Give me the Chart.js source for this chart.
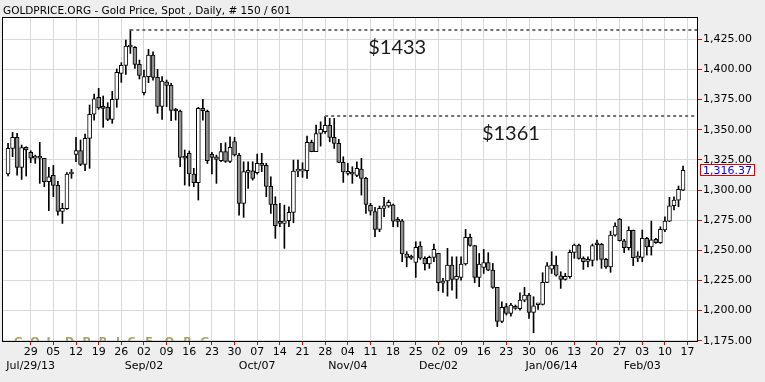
<!DOCTYPE html>
<html>
<head>
<meta charset="utf-8">
<script src="https://cdn.jsdelivr.net/npm/chart.js@4.4.0/dist/chart.umd.min.js"></script>
<style>
  html, body { margin: 0; padding: 0; background: #eeeeee; }
  canvas { display: block; }
</style>
</head>
<body>
<canvas id="gold" width="765" height="382"></canvas>
<script>
// daily OHLC, Jul/22/13 .. Feb/14/14 (150 sessions)
const open = [
  1313.3, 1334.5, 1343.7, 1318.8, 1335.4, 1331.2, 1326.3, 1328.2, 1326.3, 1306.9,
  1312.2, 1303.9, 1282.3, 1284.5, 1313.3, 1329.6, 1332.6, 1321.3, 1342.8, 1362.8,
  1376.9, 1368.3, 1368.6, 1358.6, 1375.2, 1396.8, 1403.4, 1418.6, 1418.3, 1404.2,
  1380.7, 1394.0, 1412.0, 1393.4, 1369.4, 1389.6, 1386.8, 1366.3, 1365.5, 1327.6,
  1330.4, 1313.3, 1306.1, 1367.7, 1365.2, 1329.6, 1327.6, 1324.3, 1331.8, 1323.8,
  1340.1, 1329.0, 1288.9, 1314.6, 1316.0, 1314.3, 1322.1, 1320.4, 1303.0, 1288.1,
  1273.4, 1272.3, 1274.5, 1281.4, 1315.7, 1315.7, 1316.0, 1339.5, 1331.7, 1346.9,
  1348.3, 1353.6, 1343.6, 1338.7, 1322.9, 1313.8, 1314.6, 1312.1, 1317.4, 1309.6,
  1287.2, 1282.2, 1267.3, 1284.7, 1286.7, 1287.8, 1274.8, 1274.5, 1246.9, 1244.4,
  1239.9, 1253.5, 1243.3, 1238.6, 1244.1, 1247.4, 1222.8, 1224.5, 1237.7, 1225.8,
  1227.5, 1238.6, 1260.7, 1254.0, 1227.5, 1235.8, 1239.7, 1233.6, 1219.2, 1191.0,
  1203.2, 1197.6, 1203.2, 1201.5, 1208.7, 1212.8, 1198.5, 1204.8, 1205.1, 1223.4,
  1234.4, 1237.7, 1228.9, 1225.8, 1228.1, 1248.2, 1254.3, 1243.3, 1240.8, 1241.6,
  1255.7, 1254.9, 1242.4, 1236.3, 1262.6, 1275.9, 1257.9, 1252.1, 1266.5, 1243.5,
  1244.1, 1259.9, 1252.7, 1259.0, 1256.3, 1266.8, 1274.2, 1286.9, 1291.6, 1299.9
];
const high = [
  1338.7, 1347.8, 1347.0, 1337.3, 1335.9, 1332.6, 1329.0, 1339.5, 1326.3, 1318.8,
  1320.4, 1307.2, 1288.9, 1314.4, 1317.1, 1343.7, 1341.5, 1346.4, 1370.5, 1379.6,
  1384.3, 1378.0, 1372.4, 1381.8, 1400.4, 1405.6, 1424.4, 1433.0, 1418.9, 1407.8,
  1399.5, 1416.7, 1414.7, 1400.1, 1394.0, 1391.2, 1388.5, 1367.7, 1366.3, 1333.2,
  1332.3, 1318.0, 1368.6, 1375.2, 1366.3, 1331.2, 1329.0, 1338.7, 1339.2, 1344.2,
  1343.7, 1330.4, 1323.4, 1323.4, 1323.4, 1329.8, 1330.4, 1322.1, 1311.0, 1294.4,
  1288.9, 1287.5, 1286.1, 1324.8, 1324.8, 1322.6, 1344.7, 1341.4, 1353.9, 1356.6,
  1361.0, 1359.4, 1359.4, 1342.0, 1327.6, 1322.1, 1319.3, 1323.4, 1326.2, 1310.5,
  1288.9, 1285.6, 1286.7, 1293.9, 1291.6, 1288.4, 1277.3, 1275.6, 1248.8, 1246.0,
  1257.1, 1257.1, 1244.6, 1245.2, 1255.2, 1247.4, 1226.7, 1251.6, 1244.6, 1244.6,
  1244.6, 1267.3, 1263.4, 1254.0, 1247.4, 1250.7, 1248.0, 1239.1, 1219.2, 1207.3,
  1205.9, 1205.9, 1204.6, 1214.8, 1219.2, 1214.2, 1211.5, 1205.4, 1231.4, 1239.7,
  1248.8, 1245.2, 1232.2, 1230.8, 1250.2, 1255.2, 1255.2, 1244.6, 1244.6, 1255.2,
  1258.5, 1255.7, 1243.3, 1265.9, 1272.8, 1276.4, 1259.0, 1269.5, 1266.8, 1248.8,
  1266.8, 1260.7, 1274.2, 1259.9, 1269.5, 1277.8, 1293.9, 1294.4, 1303.3, 1319.9
];
const low = [
  1311.6, 1327.6, 1312.4, 1308.8, 1311.6, 1322.7, 1322.1, 1305.5, 1302.7, 1282.8,
  1294.5, 1279.2, 1272.3, 1283.9, 1309.7, 1323.5, 1320.2, 1316.0, 1318.0, 1358.0,
  1366.9, 1352.0, 1357.5, 1355.3, 1368.6, 1389.3, 1395.9, 1413.3, 1400.9, 1392.1,
  1378.8, 1389.0, 1391.2, 1363.6, 1358.6, 1369.1, 1357.5, 1358.0, 1319.3, 1304.1,
  1303.3, 1302.7, 1291.7, 1358.0, 1322.0, 1313.3, 1305.5, 1323.5, 1322.9, 1322.7,
  1328.2, 1279.2, 1277.3, 1301.3, 1308.2, 1313.2, 1315.2, 1294.4, 1280.6, 1259.9,
  1269.5, 1251.6, 1269.5, 1272.8, 1311.0, 1310.5, 1309.6, 1331.7, 1331.7, 1336.4,
  1346.9, 1340.0, 1334.5, 1322.6, 1306.3, 1312.4, 1305.5, 1311.0, 1295.8, 1280.6,
  1279.2, 1261.2, 1265.4, 1277.8, 1285.6, 1269.5, 1269.5, 1240.5, 1236.3, 1242.4,
  1227.5, 1242.4, 1233.6, 1235.0, 1240.5, 1216.4, 1215.1, 1212.0, 1217.0, 1210.1,
  1225.3, 1237.7, 1253.5, 1223.1, 1219.8, 1230.8, 1233.0, 1218.4, 1186.6, 1189.9,
  1196.3, 1195.4, 1201.0, 1200.4, 1207.3, 1193.5, 1181.6, 1201.0, 1204.6, 1223.1,
  1230.8, 1228.6, 1218.4, 1225.3, 1226.7, 1243.3, 1242.7, 1234.1, 1236.3, 1236.9,
  1241.9, 1235.0, 1235.0, 1231.7, 1261.8, 1257.6, 1248.0, 1250.2, 1237.2, 1240.5,
  1240.5, 1246.0, 1246.0, 1255.7, 1255.7, 1265.4, 1273.7, 1283.4, 1286.1, 1299.4
];
const close = [
  1334.5, 1343.7, 1318.8, 1335.1, 1333.2, 1326.3, 1328.2, 1326.3, 1306.9, 1311.0,
  1303.9, 1282.3, 1284.8, 1313.3, 1313.8, 1332.6, 1321.3, 1342.8, 1362.8, 1375.7,
  1368.0, 1367.7, 1358.6, 1375.2, 1397.6, 1403.4, 1419.4, 1419.4, 1404.2, 1395.1,
  1394.0, 1412.0, 1393.4, 1369.4, 1390.4, 1386.8, 1366.1, 1365.5, 1327.1, 1326.5,
  1313.3, 1306.1, 1367.7, 1365.8, 1324.3, 1327.1, 1325.4, 1331.8, 1323.8, 1335.4,
  1329.0, 1288.9, 1315.2, 1315.4, 1309.6, 1322.1, 1320.4, 1303.0, 1288.1, 1270.4,
  1272.3, 1274.5, 1281.4, 1315.7, 1316.3, 1317.1, 1339.5, 1331.7, 1346.9, 1350.3,
  1353.6, 1343.6, 1338.7, 1322.9, 1314.9, 1315.4, 1313.2, 1317.9, 1309.6, 1288.1,
  1282.5, 1267.3, 1284.7, 1286.9, 1289.7, 1274.2, 1274.0, 1246.9, 1244.1, 1243.5,
  1252.4, 1243.5, 1238.6, 1244.1, 1250.7, 1223.1, 1224.5, 1237.7, 1225.8, 1228.3,
  1238.6, 1260.7, 1254.0, 1227.5, 1238.6, 1239.7, 1233.6, 1219.2, 1191.0, 1202.6,
  1197.6, 1204.6, 1201.8, 1208.7, 1212.8, 1198.5, 1204.0, 1205.4, 1223.4, 1237.2,
  1237.7, 1229.4, 1225.8, 1228.3, 1248.2, 1254.3, 1243.3, 1240.5, 1241.6, 1253.8,
  1254.6, 1242.4, 1236.3, 1262.6, 1270.1, 1257.9, 1252.1, 1266.5, 1243.8, 1244.6,
  1259.9, 1252.7, 1258.7, 1256.3, 1267.3, 1274.2, 1286.9, 1291.6, 1300.5, 1316.4
];

// weekly axis labels (Mondays), first one is session #5 (Jul/29)
const weekTicks = ['29', '05', '12', '19', '26', '02', '09', '16', '23', '30',
  '07', '14', '21', '28', '04', '11', '18', '25', '02', '09',
  '16', '23', '30', '06', '13', '20', '27', '03', '10', '17'];
const monthTicks = ['Jul/29/13', '', '', '', '', 'Sep/02', '', '', '', '',
  'Oct/07', '', '', '', 'Nov/04', '', '', '', 'Dec/02', '',
  '', '', '', 'Jan/06/14', '', '', '', 'Feb/03', '', ''];
const firstMonday = 5;
const priceTicks = [1175, 1200, 1225, 1250, 1275, 1300, 1325, 1350, 1375, 1400, 1425];

const lastPrice = 1316.37;
const markValues = [1433, 1361];
const markLabels = ['$1433', '$1361'];
const markFrom = [27, 70];   // session where the high was made

const title = 'GOLDPRICE.ORG - Gold Price, Spot , Daily, # 150 / 601';
const tickValues = weekTicks.map((_, k) => firstMonday + 5 * k);

const bodies = open.map((o, i) => ({ x: i, y: [o, close[i]] }));
const wicks = open.map((_, i) => ({ x: i, y: [low[i], high[i]] }));

const fmt = v => v.toLocaleString('en-US', { minimumFractionDigits: 2, maximumFractionDigits: 2 });

const chrome = {
  id: 'chrome',
  beforeDraw(chart) {
    const { ctx, chartArea: a } = chart;
    ctx.save();
    ctx.fillStyle = '#eeeeee';
    ctx.fillRect(0, 0, chart.width, chart.height);
    ctx.fillStyle = '#ffffff';
    ctx.fillRect(a.left, a.top, a.right - a.left, a.bottom - a.top);
    ctx.fillStyle = '#000';
    ctx.font = '10.5px "DejaVu Sans"';
    ctx.fillText(title, 3, 14);
    ctx.restore();
  },
  beforeDatasetsDraw(chart) {
    // faint site watermark sitting on the bottom edge
    const { ctx, chartArea: a } = chart;
    ctx.save();
    ctx.beginPath();
    ctx.rect(a.left, a.top, a.right - a.left, a.bottom - a.top);
    ctx.clip();
    ctx.fillStyle = '#a8a26a';
    ctx.font = 'bold 11px "DejaVu Sans"';
    ctx.textAlign = 'center';
    const xs = [18.5, 35, 50, 69.5, 86.5, 103, 118, 131.5, 149, 158, 169.5, 187.5, 205];
    'GOLDPRICE.ORG'.split('').forEach((ch, i) => ctx.fillText(ch, xs[i], 345));
    ctx.restore();
  },
  afterDatasetsDraw(chart) {
    const { ctx, chartArea: a, scales: { x, y } } = chart;
    const textAt = [79.5, 104.6];
    ctx.save();
    markValues.forEach((v, k) => {
      const py = Math.round(y.getPixelForValue(v));
      ctx.strokeStyle = '#707070';
      ctx.lineWidth = 2;
      ctx.setLineDash([3, 3]);
      ctx.beginPath();
      ctx.moveTo(x.getPixelForValue(markFrom[k]), py);
      ctx.lineTo(a.right, py);
      ctx.stroke();
      ctx.setLineDash([]);
      ctx.fillStyle = '#1a1a1a';
      ctx.font = '20px Lato';
      ctx.textBaseline = 'middle';
      ctx.fillText(markLabels[k], x.getPixelForValue(textAt[k]), py + 18);
    });
    ctx.restore();
  },
  afterDraw(chart) {
    const { ctx, chartArea: a, scales: { y } } = chart;
    ctx.save();
    ctx.strokeStyle = '#000';
    ctx.lineWidth = 1;
    ctx.strokeRect(a.left + 0.5, a.top + 0.5, a.right - a.left, a.bottom - a.top);
    const py = y.getPixelForValue(lastPrice);
    ctx.fillStyle = '#ffffff';
    ctx.fillRect(700, Math.round(py) - 5, 54, 11);
    ctx.strokeStyle = '#e00000';
    ctx.strokeRect(700.5, Math.round(py) - 5.5, 54, 11);
    ctx.fillStyle = '#0000ff';
    ctx.font = '11px "DejaVu Sans"';
    ctx.textBaseline = 'middle';
    ctx.fillText(fmt(lastPrice), 703, py + 0.5);
    ctx.restore();
  }
};

new Chart(document.getElementById('gold'), {
  type: 'bar',
  data: {
    datasets: [
      {
        data: bodies,
        grouped: false,
        barThickness: 4,
        minBarLength: 2,
        borderWidth: 1,
        borderColor: '#000',
        borderSkipped: false,
        backgroundColor: c => close[c.dataIndex] >= open[c.dataIndex] ? '#ffffff' : '#909090'
      },
      {
        data: wicks,
        grouped: false,
        barThickness: 1,
        borderWidth: 0,
        backgroundColor: '#000'
      }
    ]
  },
  options: {
    responsive: false,
    animation: false,
    layout: { padding: { top: 17, left: 2, right: 0, bottom: 0 } },
    plugins: { legend: { display: false }, tooltip: { enabled: false } },
    scales: {
      x: {
        type: 'linear',
        offset: false,
        min: -1.336,
        max: 152.08,
        afterBuildTicks: ax => { ax.ticks = tickValues.map(v => ({ value: v })); },
        afterFit: s => { s.height = 41; },
        grid: { offset: false, color: '#d9d9d9', tickColor: '#e00000', tickLength: 4 },
        border: { color: '#000' },
        ticks: {
          autoSkip: false,
          maxRotation: 0,
          padding: 0,
          color: '#000',
          font: { family: 'DejaVu Sans', size: 11, lineHeight: 1.3 },
          callback: (v, k) => [weekTicks[k], monthTicks[k]]
        }
      },
      y: {
        position: 'right',
        beginAtZero: false,
        min: 1174.75,
        max: 1443.5,
        afterBuildTicks: ax => { ax.ticks = priceTicks.map(v => ({ value: v })); },
        afterFit: s => { s.width = 68; },
        grid: { color: '#d9d9d9', tickColor: '#e00000', tickLength: 5 },
        border: { color: '#000' },
        ticks: {
          padding: 1,
          color: '#000',
          font: { family: 'DejaVu Sans', size: 11 },
          callback: v => fmt(v)
        }
      }
    }
  },
  plugins: [chrome]
});
</script>
</body>
</html>
